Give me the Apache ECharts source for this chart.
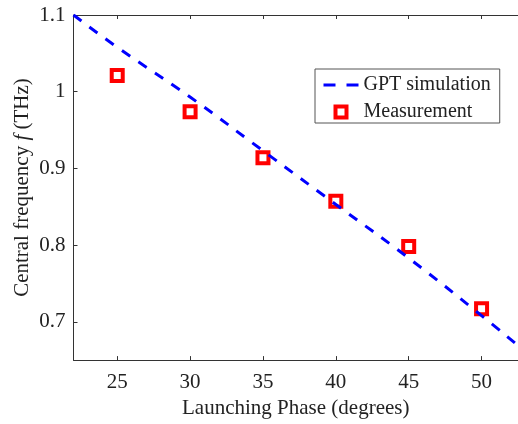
<!DOCTYPE html>
<html>
<head>
<meta charset="utf-8">
<script src="https://cdn.jsdelivr.net/npm/echarts@6/dist/echarts.min.js"></script>
<style>
    html, body { margin: 0; padding: 0; background: #fff; }
    #chart { width: 518px; height: 424px; }
</style>
</head>
<body>
<div id="chart"></div>
<script>
// GPT simulation curve (launching phase, frequency)
const simPhase = [22, 25, 30, 35, 40, 45, 50, 52.5]
const simFreq = [1.100, 1.058, 0.993, 0.923, 0.853, 0.783, 0.708, 0.669]

// measured points
const measPhase = [25, 30, 35, 40, 45, 50]
const measFreq = [1.021, 0.974, 0.914, 0.857, 0.798, 0.717]

const xTicks = [25, 30, 35, 40, 45, 50]
const yTicks = [0.7, 0.8, 0.9, 1, 1.1]

const font = 'Liberation Serif, Times New Roman, serif'
const textColor = '#222'
const axisColor = '#333'

const chart = echarts.init(document.getElementById('chart'), null, { renderer: 'canvas' })

const xAxisBase = {
    type: 'value',
    min: 22,
    max: 52.5,
    axisLine: { show: true, lineStyle: { color: axisColor, width: 1 } },
    axisTick: { show: true, inside: true, length: 4, customValues: xTicks, lineStyle: { color: axisColor } },
    splitLine: { show: false }
}

chart.setOption({
    animation: false,
    backgroundColor: '#fff',
    grid: {
        left: 73.5,
        right: -6,
        top: 15,
        bottom: 61.3
    },
    xAxis: [
        Object.assign({}, xAxisBase, {
            position: 'bottom',
            name: 'Launching Phase (degrees)',
            nameLocation: 'middle',
            nameGap: 37,
            nameTextStyle: { fontFamily: font, fontSize: 21, color: textColor },
            axisLabel: {
                customValues: xTicks,
                margin: 12,
                fontFamily: font,
                fontSize: 21,
                color: textColor
            }
        }),
        Object.assign({}, xAxisBase, {
            position: 'top',
            axisLabel: { show: false }
        })
    ],
    yAxis: {
        type: 'value',
        min: 0.65,
        max: 1.1,
        name: 'Central frequency {i|f} (THz)',
        nameLocation: 'middle',
        nameGap: 41,
        nameMoveOverlap: false,
        nameTextStyle: {
            fontFamily: font,
            fontSize: 21,
            color: textColor,
            rich: {
                i: { fontFamily: font, fontSize: 21, fontStyle: 'italic', color: textColor }
            }
        },
        axisLine: { show: true, lineStyle: { color: axisColor, width: 1 } },
        axisTick: { show: true, inside: true, length: 4, customValues: yTicks, lineStyle: { color: axisColor } },
        axisLabel: {
            customValues: yTicks,
            margin: 8,
            fontFamily: font,
            fontSize: 21,
            color: textColor
        },
        splitLine: { show: false }
    },
    legend: {
        orient: 'vertical',
        left: 315,
        top: 69,
        padding: [6, 9, 1, 7],
        itemWidth: 35,
        itemHeight: 11,
        itemGap: 7,
        itemTextGap: 8,
        backgroundColor: '#fff',
        borderColor: '#555',
        borderWidth: 1,
        borderRadius: 0,
        textStyle: { fontFamily: font, fontSize: 20, color: textColor },
        data: [
            {
                name: 'GPT simulation',
                itemStyle: { color: 'rgba(0,0,0,0)', borderColor: 'rgba(0,0,0,0)', borderWidth: 0 },
                lineStyle: { color: '#0000ff', width: 3, type: [12, 11] }
            },
            {
                name: 'Measurement',
                icon: 'path://M0,0H10V10H0Z',
                itemStyle: { color: '#fff', borderColor: '#ff0000', borderWidth: 4 }
            }
        ]
    },
    series: [
        {
            name: 'GPT simulation',
            type: 'line',
            data: simPhase.map((p, i) => [p, simFreq[i]]),
            symbol: 'none',
            smooth: true,
            clip: true,
            lineStyle: { color: '#0000ff', width: 3, type: [10, 10] },
            itemStyle: { color: '#0000ff' }
        },
        {
            name: 'Measurement',
            type: 'scatter',
            data: measPhase.map((p, i) => [p, measFreq[i]]),
            symbol: 'rect',
            symbolSize: 11,
            itemStyle: { color: '#fff', borderColor: '#ff0000', borderWidth: 4, opacity: 1 }
        }
    ]
})
</script>
</body>
</html>
